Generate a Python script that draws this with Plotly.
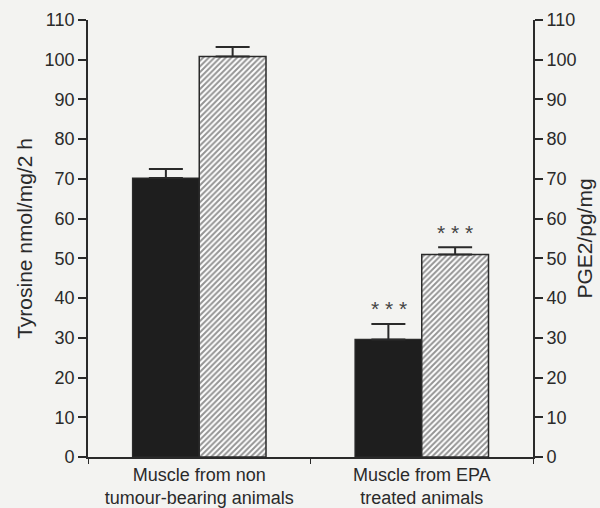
import plotly.graph_objects as go

categories = ["Muscle from non<br>tumour-bearing animals", "Muscle from EPA<br>treated animals"]
tyrosine = [70.2, 29.6]
tyrosine_err = [2.3, 3.9]
pge2 = [100.8, 51.0]
pge2_err = [2.4, 1.8]
signif_tyr = ["", "* * *"]
signif_pge = ["", "* * *"]
yticks = list(range(0, 111, 10))

ink = "#2a2a2a"
bg = "#f3f3f1"
fam = "Liberation Sans, Arial, sans-serif"
tickfont = dict(family=fam, size=18, color=ink)
xfont = dict(family=fam, size=18, color=ink)
titlefont = dict(family=fam, size=21, color=ink)

fig = go.Figure()
fig.add_trace(go.Bar(
    x=categories, y=tyrosine, width=0.3, offset=-0.3,
    marker=dict(color="#1e1e1e", line=dict(color=ink, width=1.2)),
    error_y=dict(type="data", array=tyrosine_err, symmetric=False, arrayminus=[0, 0],
                 color=ink, thickness=2, width=17),
    name="Tyrosine", yaxis="y",
))
fig.add_trace(go.Bar(
    x=categories, y=pge2, width=0.3, offset=0.0,
    marker=dict(color="white", line=dict(color=ink, width=1.5),
                pattern=dict(shape="/", fgcolor="#2a2a2a", bgcolor="white", size=4, solidity=0.5)),
    error_y=dict(type="data", array=pge2_err, symmetric=False, arrayminus=[0, 0],
                 color=ink, thickness=2, width=17),
    name="PGE2", yaxis="y2",
))

for i, c in enumerate(categories):
    if signif_tyr[i]:
        fig.add_annotation(x=c, y=tyrosine[i] + tyrosine_err[i], xshift=-33, yshift=15,
                           text=signif_tyr[i], showarrow=False, yref="y",
                           font=dict(family=fam, size=21, color="#444"))
    if signif_pge[i]:
        fig.add_annotation(x=c, y=pge2[i] + pge2_err[i], xshift=33, yshift=15,
                           text=signif_pge[i], showarrow=False, yref="y2",
                           font=dict(family=fam, size=21, color="#444"))

axis_common = dict(range=[0, 110], tickvals=yticks, ticks="outside", ticklen=8, tickwidth=1.5,
                   tickcolor=ink, showline=True, linecolor=ink, linewidth=1.8,
                   showgrid=False, zeroline=False, tickfont=tickfont, automargin=False)

fig.update_layout(
    width=600, height=508,
    margin=dict(l=88, r=67, t=20, b=51),
    paper_bgcolor=bg, plot_bgcolor=bg,
    showlegend=False, barmode="overlay",
    font=tickfont,
    xaxis=dict(type="category", showline=True, linecolor=ink, linewidth=1.8,
               ticks="outside", tickson="boundaries", ticklen=5, tickcolor=ink,
               showgrid=False, tickfont=xfont, range=[-0.5, 1.5], automargin=False),
    yaxis=dict(title=dict(text="Tyrosine nmol/mg/2 h", font=titlefont, standoff=6), side="left", **axis_common),
    yaxis2=dict(title=dict(text="PGE2/pg/mg", font=titlefont, standoff=2), side="right",
                overlaying="y", **axis_common),
)

fig.write_html("out.html", config={"displayModeBar": False},
               post_script="document.body.style.margin='0';document.body.style.background='%s';" % bg)
